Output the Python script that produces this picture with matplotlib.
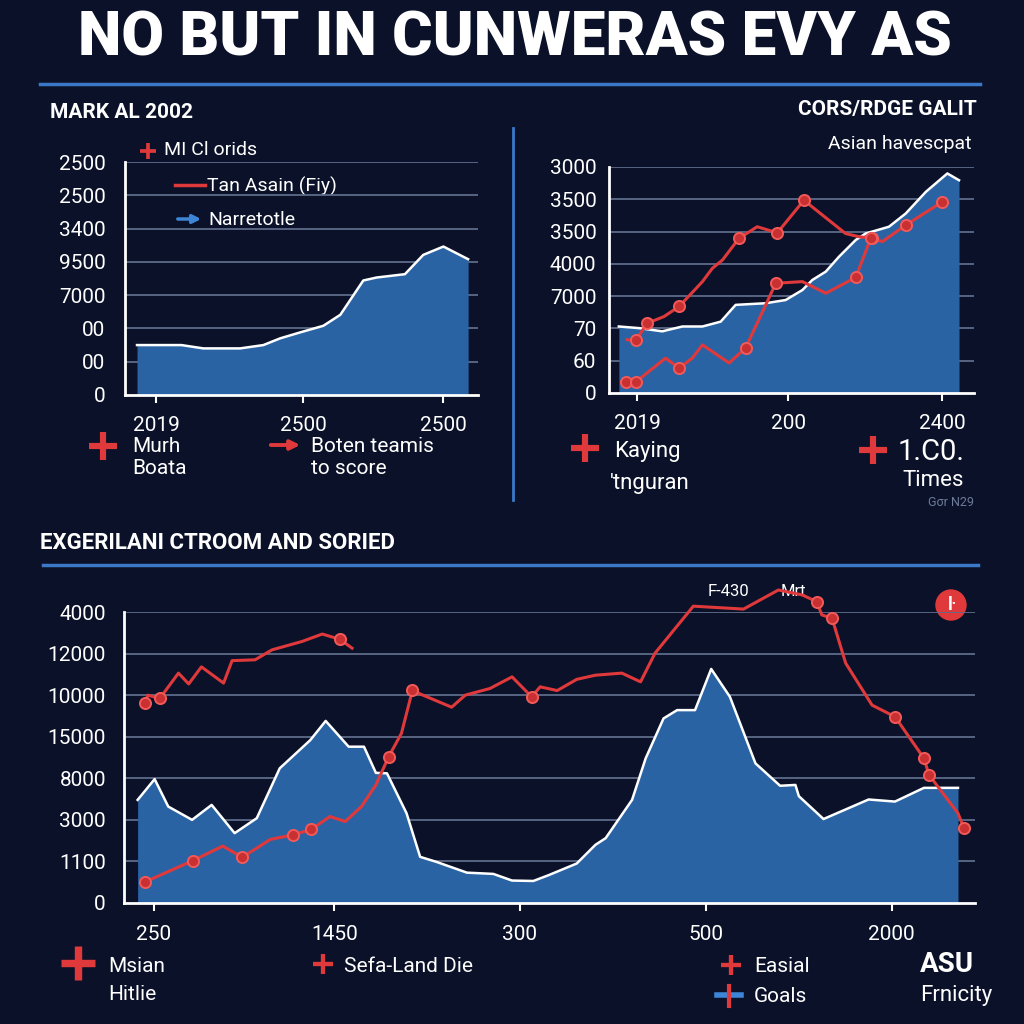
import matplotlib
matplotlib.use("Agg")
import matplotlib.pyplot as plt
from matplotlib.patches import Circle

plt.rcParams['font.family'] = ['Roboto', 'DejaVu Sans']

BG = '#0a1128'
AREA = '#2a63a4'
RED = '#e0393b'
GRID = '#5d6b8a'
BLUE_LINE = '#3b78c8'

# ---- top left panel ----
left_ylabels = ['0', '00', '00', '7000', '9500', '3400', '2500', '2500']
left_xticks = [8.8, 50.4, 90.1]
left_xlabels = ['2019', '2500', '2500']
left_x = [3.4, 16.0, 22.2, 32.6, 39.2, 43.9, 49.6, 56.2, 61.0, 67.5, 71.3, 79.3, 84.5, 90.2, 97.2]
left_y = [1.50, 1.50, 1.40, 1.40, 1.50, 1.70, 1.88, 2.08, 2.41, 3.44, 3.53, 3.63, 4.21, 4.46, 4.08]

# ---- top right panel ----
right_ylabels = ['0', '60', '70', '7000', '4000', '3500', '3500', '3000']
right_xticks = [7.8, 49.1, 91.3]
right_xlabels = ['2019', '200', '2400']
right_x = [2.7, 8.2, 14.6, 20.1, 25.6, 30.6, 34.7, 42.9, 48.4, 53.0, 55.7, 59.4, 63.0,
           67.6, 70.3, 76.7, 81.3, 86.8, 92.7, 95.9]
right_y = [2.06, 2.01, 1.91, 2.06, 2.06, 2.21, 2.73, 2.78, 2.88, 3.19, 3.50, 3.76, 4.22,
           4.74, 4.94, 5.15, 5.56, 6.23, 6.80, 6.59]
right_up_x = [5.0, 7.3, 10.5, 15.1, 19.2, 25.6, 28.3, 31.1, 35.6, 40.6, 46.1, 53.4, 64.8, 68.5, 72.1]
right_up_y = [1.65, 1.63, 2.16, 2.37, 2.68, 3.45, 3.86, 4.12, 4.79, 5.15, 4.96, 5.97, 4.94, 4.84, 4.79]
right_up_mx = [7.3, 10.5, 19.2, 35.6, 46.1, 53.4, 72.1]
right_up_my = [1.63, 2.16, 2.68, 4.79, 4.96, 5.97, 4.79]
right_lo_x = [4.6, 7.3, 15.5, 19.2, 22.8, 25.6, 32.9, 37.4, 45.7, 53.0, 59.4, 67.6, 71.7, 74.9, 81.3, 91.3]
right_lo_y = [0.34, 0.34, 1.08, 0.77, 1.08, 1.49, 0.93, 1.39, 3.40, 3.45, 3.09, 3.58, 4.79, 4.69, 5.20, 5.92]
right_lo_mx = [4.6, 7.3, 19.2, 37.4, 45.7, 67.6, 71.7, 81.3, 91.3]
right_lo_my = [0.34, 0.34, 0.77, 1.39, 3.40, 3.58, 4.79, 5.20, 5.92]

# ---- bottom panel ----
bot_ylabels = ['0', '1100', '3000', '8000', '15000', '10000', '12000', '4000']
bot_xticks = [3.5, 24.7, 46.5, 68.4, 90.2]
bot_xlabels = ['250', '1450', '300', '500', '2000']
bot_x = [1.6, 3.6, 5.2, 8.0, 10.3, 13.0, 15.6, 18.3, 21.9, 23.7, 26.4, 28.2, 29.6, 30.9,
         33.2, 34.8, 36.7, 40.3, 43.4, 45.6, 48.1, 49.9, 53.2, 55.4, 56.6, 59.7, 61.3,
         63.4, 65.0, 67.1, 69.0, 71.2, 74.2, 77.1, 78.9, 79.3, 82.2, 87.5, 90.6, 94.0, 98.0]
bot_y = [2.48, 2.98, 2.32, 2.00, 2.36, 1.68, 2.04, 3.24, 3.92, 4.38, 3.76, 3.76, 3.13, 3.12,
         2.16, 1.11, 0.99, 0.73, 0.70, 0.54, 0.53, 0.67, 0.95, 1.40, 1.56, 2.48, 3.48,
         4.44, 4.64, 4.64, 5.63, 4.96, 3.36, 2.82, 2.84, 2.57, 2.02, 2.49, 2.44, 2.77, 2.77]
bot_a_x = [2.5, 2.8, 4.2, 6.4, 7.6, 9.1, 11.7, 12.7, 15.4, 17.4, 20.9, 23.3, 25.4, 26.8]
bot_a_y = [4.82, 5.00, 4.92, 5.53, 5.27, 5.68, 5.29, 5.83, 5.85, 6.09, 6.29, 6.47, 6.34, 6.13]
bot_a_mx = [2.5, 4.2, 25.4]
bot_a_my = [4.82, 4.92, 6.34]
bot_b_x = [2.5, 8.1, 11.6, 13.9, 17.2, 19.9, 22.0, 24.2, 26.0, 27.9, 29.6, 31.1, 32.6, 33.9,
           34.2, 38.5, 40.1, 43.0, 45.6, 47.9, 48.9, 50.9, 53.2, 55.4, 58.5, 60.7, 62.4,
           66.9, 72.8, 76.9, 79.7, 81.4, 82.0, 83.2, 84.8, 87.9, 90.6, 94.0, 94.6, 98.0, 98.7]
bot_b_y = [0.51, 1.02, 1.37, 1.10, 1.53, 1.64, 1.77, 2.08, 1.96, 2.32, 2.84, 3.52, 4.08, 5.12,
           5.08, 4.71, 5.00, 5.16, 5.44, 4.96, 5.20, 5.11, 5.38, 5.48, 5.53, 5.32, 6.01,
           7.14, 7.07, 7.53, 7.41, 7.25, 6.93, 6.85, 5.77, 4.76, 4.48, 3.48, 3.08, 2.16, 1.80]
bot_b_mx = [2.5, 8.1, 13.9, 19.9, 22.0, 31.1, 33.9, 47.9, 81.4, 83.2, 90.6, 94.0, 94.6, 98.7]
bot_b_my = [0.51, 1.02, 1.10, 1.64, 1.77, 3.52, 5.12, 4.96, 7.25, 6.85, 4.48, 3.48, 3.08, 1.80]


def px_axes(fig, x0, y0, x1, y1):
    return fig.add_axes([x0 / 1024, 1 - y1 / 1024, (x1 - x0) / 1024, (y1 - y0) / 1024])


def style_panel(ax, ylabels, xticks, xlabels, ypad, xpad, fs):
    ax.set_facecolor('none')
    ax.set_xlim(0, 100)
    ax.set_ylim(0, 7)
    for k in range(1, 8):
        ax.axhline(k, color=GRID, lw=1.3, zorder=0)
    for s in ['top', 'right']:
        ax.spines[s].set_visible(False)
    for s in ['left', 'bottom']:
        ax.spines[s].set_color('white')
        ax.spines[s].set_linewidth(2)
    ax.set_yticks(range(8))
    ax.set_yticklabels(ylabels)
    ax.set_xticks(xticks)
    ax.set_xticklabels(xlabels)
    ax.tick_params(axis='y', length=0, pad=ypad, labelsize=fs, labelcolor='white')
    ax.tick_params(axis='x', length=6, width=1.5, color='white', pad=xpad,
                   labelsize=fs, labelcolor='white')


def red_line(ax, x, y, mx, my):
    ax.plot(x, y, color=RED, lw=2.2, zorder=4, clip_on=False)
    ax.plot(mx, my, 'o', ms=8, mfc='#c93032', mec='#f25a5a', mew=1.4, zorder=5, clip_on=False)


def plus(ax, x, y, size, color=RED):
    ax.plot(x, y, '+', color=color, ms=size, mew=size / 4.5)


fig = plt.figure(figsize=(10.24, 10.24), dpi=100, facecolor=BG)

ov = fig.add_axes([0, 0, 1, 1])
ov.set_xlim(0, 1024)
ov.set_ylim(1024, 0)
ov.axis('off')

# title + rules
ov.text(515, 39, 'NO BUT IN CUNWERAS EVY AS', color='white', fontsize=44.5, fontweight='black',
        ha='center', va='center')
ov.plot([40, 980], [84, 84], color=BLUE_LINE, lw=2.5)
ov.plot([513, 513], [128, 500], color=BLUE_LINE, lw=2)
ov.plot([43, 978], [565, 565], color=BLUE_LINE, lw=2.5)

# left panel
ax1 = px_axes(fig, 125, 162, 478, 395)
style_panel(ax1, left_ylabels, left_xticks, left_xlabels, 14, 9, 15)
ax1.fill_between(left_x, left_y, 0, color=AREA, lw=0, zorder=1)
ax1.plot(left_x, left_y, color='white', lw=1.8, zorder=2)

ov.text(50, 112, 'MARK AL 2002', color='white', fontsize=15, fontweight='bold', va='center')
plus(ov, 148, 151, 12)
ov.text(164, 150, 'MI Cl orids', color='white', fontsize=14, va='center')
ov.plot([175, 205], [185, 185], color=RED, lw=2.5)
ov.text(207, 186, 'Tan Asain (Fiy)', color='white', fontsize=14, va='center')
ov.annotate('', xy=(204, 219), xytext=(175, 219),
            arrowprops=dict(arrowstyle='-|>', color='#3d85d6', lw=2.5, mutation_scale=12))
ov.text(208, 220, 'Narretotle', color='white', fontsize=14, va='center')
plus(ov, 103, 446, 20)
ov.text(132, 446, 'Murh', color='white', fontsize=15, va='center')
ov.text(132, 469, 'Boata', color='white', fontsize=15, va='center')
ov.annotate('', xy=(303, 445), xytext=(268, 445),
            arrowprops=dict(arrowstyle='-|>', color=RED, lw=2.8, mutation_scale=14))
ov.text(311, 446, 'Boten teamis', color='white', fontsize=15, va='center')
ov.text(311, 469, 'to score', color='white', fontsize=15, va='center')

# right panel
ax2 = px_axes(fig, 609, 167, 974, 393)
style_panel(ax2, right_ylabels, right_xticks, right_xlabels, 9, 9, 15)
ax2.fill_between(right_x, right_y, 0, color=AREA, lw=0, zorder=1)
ax2.plot(right_x, right_y, color='white', lw=1.8, zorder=2)
red_line(ax2, right_up_x, right_up_y, right_up_mx, right_up_my)
red_line(ax2, right_lo_x, right_lo_y, right_lo_mx, right_lo_my)

ov.text(977, 110, 'CORS/RDGE GALIT', color='white', fontsize=15, fontweight='bold',
        ha='right', va='center')
ov.text(972, 144, 'Asian havescpat', color='white', fontsize=14, ha='right', va='center')
plus(ov, 585, 448, 20)
ov.text(614, 452, 'Kaying', color='white', fontsize=16, va='center')
ov.text(610, 484, "'tnguran", color='white', fontsize=16, va='center')
plus(ov, 873, 450, 20)
ov.text(898, 452, '1.C0.', color='white', fontsize=21, va='center')
ov.text(902, 480, 'Times', color='white', fontsize=16, va='center')
ov.text(974, 503, 'Gσr N29', color='#6d7c98', fontsize=9, ha='right', va='center')

# bottom panel
ax3 = px_axes(fig, 124, 612, 975, 903)
style_panel(ax3, bot_ylabels, bot_xticks, bot_xlabels, 13, 10, 15)
ax3.fill_between(bot_x, bot_y, 0, color=AREA, lw=0, zorder=1)
ax3.plot(bot_x, bot_y, color='white', lw=1.8, zorder=2)
red_line(ax3, bot_a_x, bot_a_y, bot_a_mx, bot_a_my)
red_line(ax3, bot_b_x, bot_b_y, bot_b_mx, bot_b_my)

ov.text(40, 543, 'EXGERILANI CTROOM AND SORIED', color='white', fontsize=16,
        fontweight='bold', va='center')
ov.text(708, 591, 'F-430', color='white', fontsize=12, va='center')
ov.text(781, 591, 'Mrt', color='white', fontsize=12, va='center')
ov.add_patch(Circle((951, 605), 15, color=RED, zorder=3))
ov.text(951, 605, 'ŀ', color='white', fontsize=13, fontweight='bold', ha='center',
        va='center', zorder=4)
plus(ov, 78, 963, 24)
ov.text(108, 966, 'Msian', color='white', fontsize=15, va='center')
ov.text(108, 995, 'Hitlie', color='white', fontsize=15, va='center')
plus(ov, 323, 964, 14)
ov.text(344, 966, 'Sefa-Land Die', color='white', fontsize=15, va='center')
plus(ov, 731, 965, 14)
ov.text(754, 966, 'Easial', color='white', fontsize=15, va='center')
ov.plot([717, 741], [995, 995], color='#3d85d6', lw=4)
ov.plot([729, 729], [986, 1006], color=RED, lw=3)
ov.text(754, 996, 'Goals', color='white', fontsize=15, va='center')
ov.text(920, 964, 'ASU', color='white', fontsize=20, fontweight='bold', va='center')
ov.text(920, 996, 'Frnicity', color='white', fontsize=16, va='center')

fig.savefig('out.png', dpi=100, facecolor=BG)
